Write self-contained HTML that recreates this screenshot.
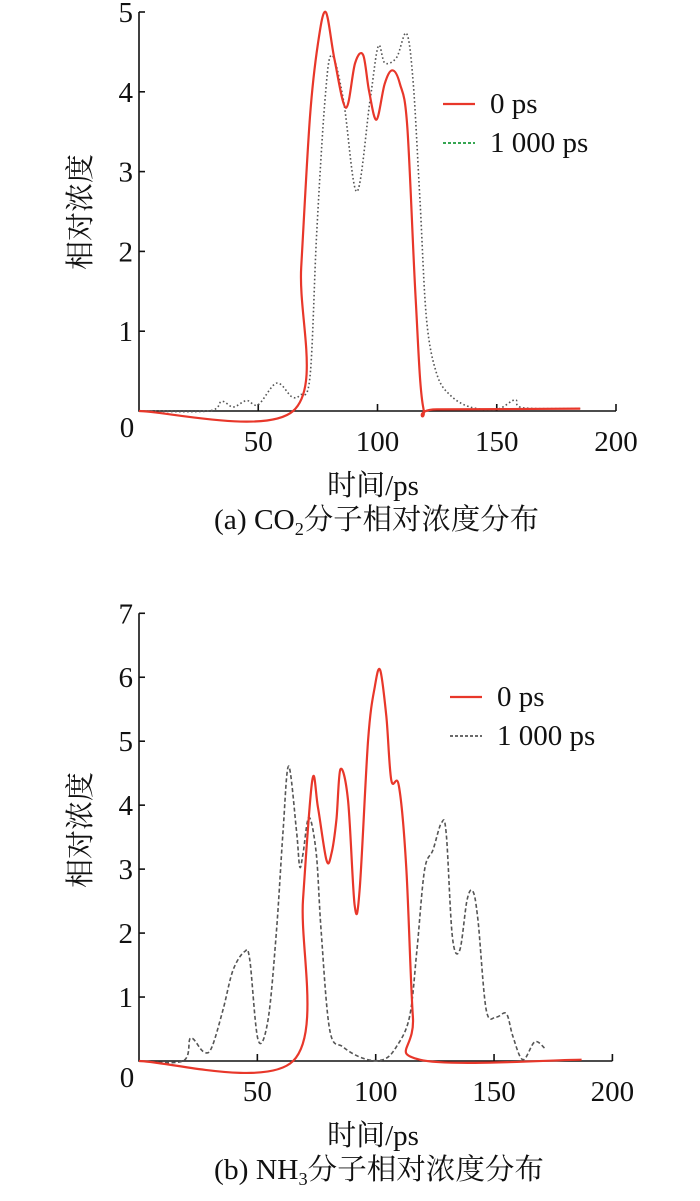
<!DOCTYPE html>
<html><head><meta charset="utf-8"><style>
html,body{margin:0;padding:0;background:#fff;}
svg{display:block;}
text{font-family:"Liberation Serif","Noto Serif CJK SC",serif;fill:#111;}
</style></head><body>
<svg id="svg" width="700" height="1201" viewBox="0 0 700 1201"></svg>
<script>
const xTicks=[50,100,150,200];
const co2Ticks=[1,2,3,4,5];
const nh3Ticks=[1,2,3,4,5,6,7];
const co2X0=[0,64.6,68,71.7,75,78.3,82,86.8,90.6,94,96.5,99.6,103,106.2,109.4,112.5,116,119.2,125,185];
const co2Y0=[0,0,1.8,3.69,4.6,5.0,4.4,3.8,4.36,4.46,4.0,3.65,4.1,4.27,4.1,3.56,1.4,0.04,0.02,0.03];
const co2X1=[0,29,34.7,39.5,45.1,50,57.7,64,67.5,71.7,74.5,78,80.8,85.7,91.3,96.9,100.3,103.1,108,112.2,115,117.8,120.6,124.8,130.4,138.8,150,157.7,161,185];
const co2Y1=[0,0,0.12,0.05,0.13,0.08,0.35,0.18,0.2,0.43,2.23,3.9,4.46,3.9,2.75,3.9,4.57,4.36,4.43,4.73,4.1,2.64,1.14,0.47,0.2,0.05,0.02,0.14,0.04,0.03];
const nh3X0=[0,65.1,69.3,73.2,75.6,79.2,81.3,83.4,85.1,88.3,91.1,93.2,96.8,99.6,101.9,104.5,106.6,109.8,112.9,115.7,118.6,187];
const nh3Y0=[0,0,2.52,4.39,3.97,3.14,3.24,3.77,4.56,4.08,2.44,2.67,5.02,5.85,6.11,5.38,4.39,4.3,3.04,0.69,0.02,0.02];
const nh3X1=[0,18.6,21.8,27.1,30.6,35.5,39.7,44.6,46.8,50.3,54.5,58,60.8,63.2,66.5,67.9,69.3,71.8,74.9,77,80.6,86.2,94.8,103.1,108.7,114.3,117.4,120.6,124.2,127.7,129.8,132.4,135.5,138.6,141.1,143.2,146.7,151,155.2,158,162.2,167.2,171.4];
const nh3Y1=[0,0,0.36,0.15,0.2,0.8,1.42,1.71,1.58,0.33,0.64,2.0,3.56,4.61,3.61,3.04,3.24,3.81,3.24,2.0,0.48,0.22,0.04,0.02,0.22,0.69,1.73,2.98,3.3,3.72,3.56,1.94,1.73,2.52,2.65,2.2,0.8,0.69,0.74,0.38,0.02,0.3,0.2];

const NS="http://www.w3.org/2000/svg";
const svg=document.getElementById('svg');
function mk(tag,attrs,parent){const e=document.createElementNS(NS,tag);for(const k in attrs)e.setAttribute(k,attrs[k]);(parent||svg).appendChild(e);return e;}
function smooth(pts){let d='M'+pts[0][0].toFixed(1)+','+pts[0][1].toFixed(1);
 for(let i=0;i<pts.length-1;i++){const p0=pts[Math.max(0,i-1)],p1=pts[i],p2=pts[i+1],p3=pts[Math.min(pts.length-1,i+2)];
 const c1=[p1[0]+(p2[0]-p0[0])/6,p1[1]+(p2[1]-p0[1])/6],c2=[p2[0]-(p3[0]-p1[0])/6,p2[1]-(p3[1]-p1[1])/6];
 d+=' C'+c1.map(v=>v.toFixed(1))+' '+c2.map(v=>v.toFixed(1))+' '+p2[0].toFixed(1)+','+p2[1].toFixed(1);}return d;}

function chart(cfg){
 const g=mk('g',{});
 
 
 const xs=v=>cfg.x0+v*cfg.xu, ys=v=>cfg.y0-v*cfg.yu;
 const ax=mk('path',{d:`M${cfg.x0},${ys(cfg.ymax)} L${cfg.x0},${cfg.y0} L${xs(200)},${cfg.y0}`,fill:'none',stroke:'#111','stroke-width':1.6},g);
 
 
 xTicks.forEach(t=>{mk('line',{x1:xs(t),x2:xs(t),y1:cfg.y0,y2:cfg.y0-7,stroke:'#111','stroke-width':1.6},g);
  const tx=mk('text',{x:xs(t),y:cfg.y0+40,'text-anchor':'middle','font-size':29},g);tx.textContent=t;
  
  });
 const z=mk('text',{x:127,y:cfg.y0+26,'text-anchor':'middle','font-size':29},g);z.textContent='0';
 
 
 cfg.yTicks.forEach(t=>{mk('line',{x1:cfg.x0,x2:cfg.x0+6,y1:ys(t),y2:ys(t),stroke:'#111','stroke-width':1.6},g);
  const tx=mk('text',{x:133,y:ys(t)+10,'text-anchor':'end','font-size':29},g);tx.textContent=t;
  
  });
 const yt=mk('text',{x:0,y:0,'text-anchor':'middle','font-size':29,transform:`translate(90,${cfg.ytY}) rotate(-90)`},g);yt.textContent='相对浓度';
 
 
 const xt=mk('text',{x:373,y:cfg.y0+84,'text-anchor':'middle','font-size':29},g);xt.textContent='时间/ps';
 
 
 const cap=mk('text',{x:214,y:cfg.y0+118,'font-size':29,textLength:cfg.capLen,lengthAdjust:'spacingAndGlyphs'},g);
 cap.innerHTML=cfg.cap;
 
 
 const s1=mk('path',{d:smooth(cfg.X1.map((v,i)=>[xs(v),ys(cfg.Y1[i])])),fill:'none',stroke:'#555','stroke-width':1.6,'stroke-dasharray':cfg.dash},g);
 
 
 const s0=mk('path',{d:smooth(cfg.X0.map((v,i)=>[xs(v),ys(cfg.Y0[i])])),fill:'none',stroke:'#e8372a','stroke-width':2.2},g);
 
 
 const l1=mk('line',{x1:cfg.lx,x2:cfg.lx+32,y1:cfg.ly,y2:cfg.ly,stroke:'#e8372a','stroke-width':2.2},g);
 
 
 const t1=mk('text',{x:cfg.lx+47,y:cfg.ly+9,'font-size':29},g);t1.textContent='0 ps';
 
 
 const l2=mk('line',{x1:cfg.lx,x2:cfg.lx+32,y1:cfg.ly+39,y2:cfg.ly+39,stroke:cfg.legCol,'stroke-width':1.8,'stroke-dasharray':'3,2'},g);
 
 
 const t2=mk('text',{x:cfg.lx+47,y:cfg.ly+48,'font-size':29},g);t2.textContent='1 000 ps';
 
 
}
chart({name:'co2-chart',x0:139,xu:2.385,y0:411,yu:79.8,ymax:5,yTicks:co2Ticks,ytY:212,
 cap:'(a) CO<tspan font-size="18" dy="6">2</tspan><tspan dy="-6">分子相对浓度分布</tspan>',capLen:325,
 X0:co2X0,Y0:co2Y0,X1:co2X1,Y1:co2Y1,dash:'1.6,2.4',lx:443,ly:104,legCol:'#1a9a3a'});
chart({name:'nh3-chart',x0:139,xu:2.367,y0:1061,yu:63.96,ymax:7,yTicks:nh3Ticks,ytY:830,
 cap:'(b) NH<tspan font-size="18" dy="6">3</tspan><tspan dy="-6">分子相对浓度分布</tspan>',capLen:330,
 X0:nh3X0,Y0:nh3Y0,X1:nh3X1,Y1:nh3Y1,dash:'4,2.5',lx:450,ly:697,legCol:'#555'});
</script>
</body></html>
